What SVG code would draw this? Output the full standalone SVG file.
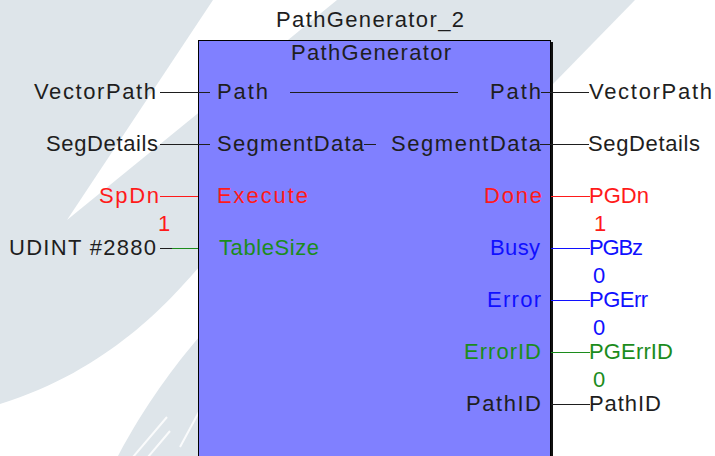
<svg xmlns="http://www.w3.org/2000/svg" width="715" height="456" viewBox="0 0 715 456">
  <style>
    text { font-family: "Liberation Sans", Arial, sans-serif; font-size: 22px; }
    .k { fill: #1e1e1e; }
    .r { fill: #ff1a1a; }
    .b { fill: #1010ff; }
    .g { fill: #1c8c1c; }
    .mid { text-anchor: middle; }
    .w { fill: none; stroke-width: 1; shape-rendering: crispEdges; }
    .wk { stroke: #1e1e1e; }
    .wr { stroke: #ff1a1a; }
    .wb { stroke: #1010ff; }
    .wg { stroke: #1c8c1c; }
  </style>

  <!-- editor background with faint swoosh watermark -->
  <g id="background">
    <rect x="0" y="0" width="715" height="456" fill="#dee5ea"/>
    <path d="M213,0 L337,0 L67,220 Z" fill="#ffffff"/>
    <path d="M200,266 C170,300 110,370 0,404 L0,456 L118,456 C145,405 175,365 200,336 Z" fill="#ffffff"/>
    <path d="M635,0 L715,0 L715,456 L553,456 L553,84 Z" fill="#ffffff"/>
    <path d="M133,457 L167,417 M148,457 L170,431 M180,447 L200,410" stroke="#ffffff" stroke-width="2" opacity="0.85" fill="none"/>
  </g>

  <!-- function block instance -->
  <g id="pathgenerator-2">
    <text class="k" x="276" y="27" textLength="188" lengthAdjust="spacing">PathGenerator_2</text>
    <rect x="198.5" y="40.5" width="352" height="430" fill="#8080ff" stroke="#000000" stroke-width="1"/>
    <rect x="551" y="42" width="2" height="420" fill="#111111"/>
    <text class="k" x="291" y="60" textLength="160" lengthAdjust="spacing">PathGenerator</text>
    <!-- inputs -->
    <text class="k" x="217" y="99" textLength="51" lengthAdjust="spacing">Path</text>
    <text class="k" x="217" y="151" textLength="147" lengthAdjust="spacing">SegmentData</text>
    <text class="r" x="217" y="203" textLength="91" lengthAdjust="spacing">Execute</text>
    <text class="g" x="219" y="255" textLength="100" lengthAdjust="spacing">TableSize</text>
    <!-- outputs -->
    <text class="k" x="490" y="99" textLength="51" lengthAdjust="spacing">Path</text>
    <text class="k" x="391" y="151" textLength="150" lengthAdjust="spacing">SegmentData</text>
    <text class="r" x="484" y="203" textLength="58" lengthAdjust="spacing">Done</text>
    <text class="b" x="490" y="255" textLength="50" lengthAdjust="spacing">Busy</text>
    <text class="b" x="487" y="307" textLength="54" lengthAdjust="spacing">Error</text>
    <text class="g" x="464" y="359" textLength="77" lengthAdjust="spacing">ErrorID</text>
    <text class="k" x="466" y="411" textLength="75" lengthAdjust="spacing">PathID</text>
  </g>

  <!-- input variables -->
  <g id="in-vectorpath">
    <text class="k" x="34" y="99" textLength="122" lengthAdjust="spacing">VectorPath</text>
  </g>
  <g id="in-segdetails">
    <text class="k" x="46" y="151" textLength="112" lengthAdjust="spacing">SegDetails</text>
  </g>
  <g id="in-spdn">
    <text class="r" x="99" y="203" textLength="60" lengthAdjust="spacing">SpDn</text>
    <text class="r mid" x="164" y="231">1</text>
  </g>
  <g id="in-tablesize">
    <text class="k" x="9" y="255" textLength="147" lengthAdjust="spacing">UDINT #2880</text>
  </g>

  <!-- output variables -->
  <g id="out-vectorpath">
    <text class="k" x="589" y="99" textLength="123" lengthAdjust="spacing">VectorPath</text>
  </g>
  <g id="out-segdetails">
    <text class="k" x="588" y="151" textLength="112" lengthAdjust="spacing">SegDetails</text>
  </g>
  <g id="out-pgdn">
    <text class="r" x="589" y="203" textLength="60" lengthAdjust="spacing">PGDn</text>
    <text class="r mid" x="600" y="231">1</text>
  </g>
  <g id="out-pgbz">
    <text class="b" x="589" y="255" textLength="54" lengthAdjust="spacing">PGBz</text>
    <text class="b mid" x="599" y="283">0</text>
  </g>
  <g id="out-pgerr">
    <text class="b" x="589" y="307" textLength="59" lengthAdjust="spacing">PGErr</text>
    <text class="b mid" x="599" y="335">0</text>
  </g>
  <g id="out-pgerrid">
    <text class="g" x="589" y="359" textLength="84" lengthAdjust="spacing">PGErrID</text>
    <text class="g mid" x="599" y="387">0</text>
  </g>
  <g id="out-pathid">
    <text class="k" x="589" y="411" textLength="72" lengthAdjust="spacing">PathID</text>
  </g>

  <!-- wires -->
  <g id="connectors">
    <path class="w wk" d="M160,92.5 H210 M290,92.5 H458 M541,92.5 H589"/>
    <path class="w wk" d="M160,144.5 H210 M364,144.5 H376 M540,144.5 H589"/>
    <path class="w wr" d="M160,196.5 H198 M551,196.5 H590"/>
    <path class="w wk" d="M160,248.5 H172"/>
    <path class="w wg" d="M172,248.5 H198"/>
    <path class="w wb" d="M551,248.5 H590 M551,300.5 H590"/>
    <path class="w wg" d="M551,352.5 H590"/>
    <path class="w wk" d="M551,404.5 H590"/>
  </g>
</svg>
